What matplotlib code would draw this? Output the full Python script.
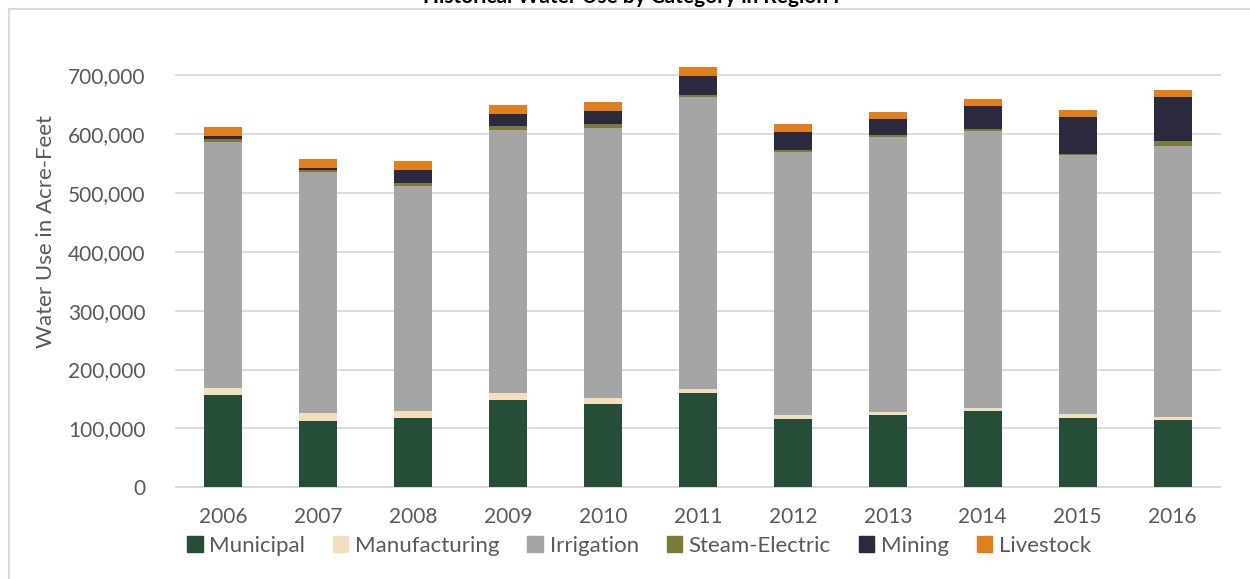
import matplotlib
matplotlib.use("Agg")
import matplotlib.pyplot as plt
from matplotlib.lines import Line2D
from matplotlib.patches import Patch
from matplotlib.ticker import FuncFormatter

plt.rcParams['font.family'] = ['Lato', 'DejaVu Sans']

years = ["2006", "2007", "2008", "2009", "2010", "2011", "2012", "2013", "2014", "2015", "2016"]

# acre-feet
municipal = [157000, 112600, 117700, 148300, 141500, 160200, 116000, 122800, 129600, 117700, 114300]
manufacturing = [11700, 13700, 11900, 11900, 10200, 6800, 6800, 5200, 5100, 6800, 5100]
irrigation = [418000, 409400, 382300, 447000, 458900, 496000, 446800, 467000, 470900, 440400, 460600]
steam_electric = [5100, 3300, 5100, 6800, 6800, 3400, 3400, 3500, 3400, 1700, 8500]
mining = [5100, 3500, 22000, 20200, 22100, 32300, 30600, 27200, 39000, 62700, 74500]
livestock = [15100, 15300, 15700, 15300, 15300, 15300, 13600, 11900, 11700, 12000, 12300]

series = [
    ("Municipal", municipal, "#264D37"),
    ("Manufacturing", manufacturing, "#F2DFBE"),
    ("Irrigation", irrigation, "#A5A5A5"),
    ("Steam-Electric", steam_electric, "#7A7B3A"),
    ("Mining", mining, "#2A293D"),
    ("Livestock", livestock, "#E07F1B"),
]

text_col = "#595959"
grid_col = "#D9D9D9"

fig = plt.figure(figsize=(12.5, 5.79), dpi=100)
ax = fig.add_axes([176 / 1250, 1 - 487.3 / 579, (1220 - 176) / 1250, (487.3 - 75.3) / 579])

x = list(range(len(years)))
bottom = [0] * len(years)
for name, vals, col in series:
    # bars may poke above the 700k top line (2011), so no clipping
    ax.bar(x, vals, width=0.4, bottom=bottom, color=col, label=name, zorder=3, clip_on=False)
    bottom = [b + v for b, v in zip(bottom, vals)]

ax.set_xlim(-0.5, len(years) - 0.5)
ax.set_ylim(0, 700000)
ax.set_yticks(range(0, 700001, 100000))
ax.yaxis.set_major_formatter(FuncFormatter(lambda v, p: f"{int(v):,}"))
ax.set_xticks(x)
ax.set_xticklabels(years)
ax.grid(axis="y", color=grid_col, linewidth=1.3, zorder=0)
for gl in ax.get_ygridlines():
    gl.set_clip_on(False)
for s in ["top", "right", "left"]:
    ax.spines[s].set_visible(False)
ax.spines["bottom"].set_color(grid_col)
ax.spines["bottom"].set_linewidth(1.3)
ax.tick_params(axis="both", length=0, labelsize=15, labelcolor=text_col)
ax.tick_params(axis="y", pad=22)
ax.tick_params(axis="x", pad=14)

fig.text(46 / 1250, 1 - 232 / 579, "Water Use in Acre-Feet", rotation=90,
         ha="center", va="center", fontsize=16, color=text_col)

# title sits mostly above the image edge, as in the source
fig.text(631 / 1250, 1 - 3 / 579, "Historical Water Use by Category in Region I",
         ha="center", va="baseline", fontsize=15, fontweight="bold", color="black")

handles = [Patch(facecolor=c, edgecolor=c) for _, _, c in series]
fig.legend(handles, [n for n, _, _ in series], loc="center", ncol=6,
           bbox_to_anchor=(639 / 1250, 1 - 546 / 579), frameon=False,
           fontsize=16, labelcolor=text_col, handlelength=0.7, handleheight=0.7,
           handletextpad=0.3, columnspacing=1.25)

# outer chart border (partly cropped)
by = 1 - 9 / 579
bx = 8.5 / 1250
fig.add_artist(Line2D([bx, 1], [by, by], color=grid_col, linewidth=1.5, transform=fig.transFigure))
fig.add_artist(Line2D([bx, bx], [0, by], color=grid_col, linewidth=1.5, transform=fig.transFigure))

fig.savefig("out.png", dpi=100, facecolor="white")
